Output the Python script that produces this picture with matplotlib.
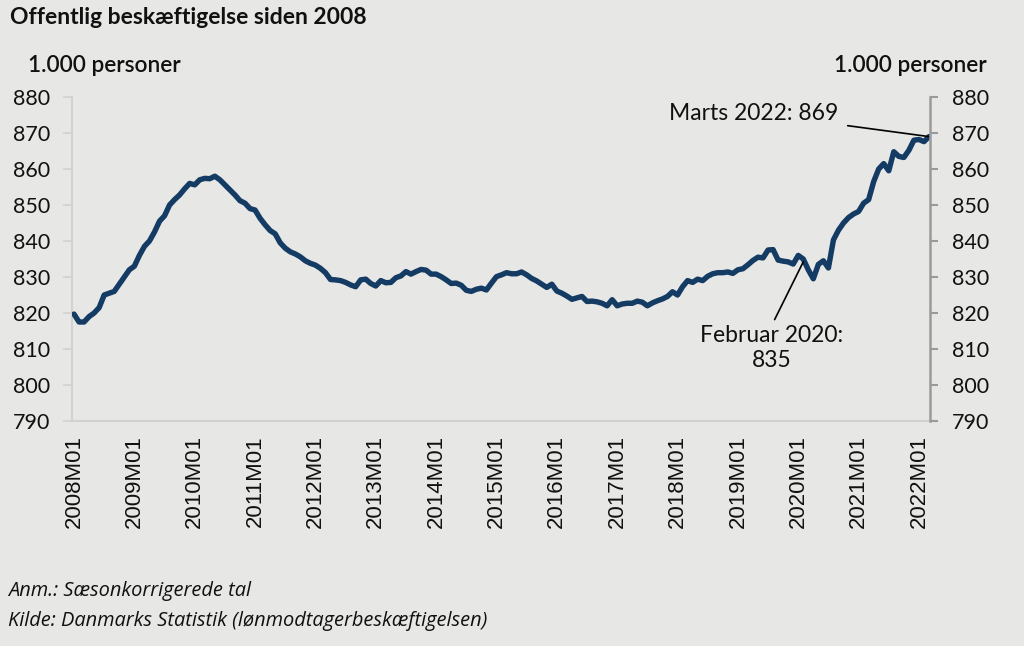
import matplotlib
matplotlib.use("Agg")
import matplotlib.pyplot as plt
import numpy as np

# Monthly data 2008M01 - 2022M03 (1.000 personer)
values = [
    # 2008
    819.7, 817.5, 817.5, 819.0, 820.0, 821.5, 825.0, 825.5, 826.0, 828.0, 830.0, 832.0,
    # 2009
    833.0, 836.0, 838.5, 840.0, 842.5, 845.5, 847.0, 850.0, 851.5, 852.8, 854.5, 856.0,
    # 2010
    855.6, 857.0, 857.4, 857.3, 858.0, 857.0, 855.6, 854.2, 852.8, 851.2, 850.5, 849.0,
    # 2011
    848.6, 846.3, 844.5, 842.9, 842.0, 839.5, 838.0, 837.0, 836.4, 835.6, 834.5, 833.8,
    # 2012
    833.3, 832.4, 831.2, 829.3, 829.2, 829.0, 828.5, 827.8, 827.3, 829.2, 829.4, 828.2,
    # 2013
    827.5, 829.0, 828.4, 828.5, 829.8, 830.3, 831.5, 830.8, 831.5, 832.1, 831.9, 830.8,
    # 2014
    830.8, 830.1, 829.2, 828.2, 828.3, 827.7, 826.3, 826.0, 826.6, 826.9, 826.4, 828.3,
    # 2015
    830.1, 830.6, 831.2, 830.9, 830.9, 831.4, 830.6, 829.6, 828.9, 828.0, 827.1, 828.0,
    # 2016
    826.1, 825.5, 824.7, 823.8, 824.2, 824.6, 823.2, 823.3, 823.1, 822.7, 822.0, 823.7,
    # 2017
    822.0, 822.5, 822.7, 822.7, 823.3, 823.0, 822.0, 822.8, 823.4, 823.9, 824.6, 825.9,
    # 2018
    825.0, 827.3, 829.0, 828.5, 829.4, 829.0, 830.2, 830.9, 831.2, 831.2, 831.4, 831.0,
    # 2019
    832.0, 832.3, 833.4, 834.6, 835.5, 835.3, 837.5, 837.6, 834.7, 834.4, 834.2, 833.6,
    # 2020
    836.0, 835.0, 832.0, 829.5, 833.5, 834.5, 832.5, 840.3, 843.0, 845.0, 846.5, 847.5,
    # 2021
    848.2, 850.5, 851.5, 856.5, 860.0, 861.5, 859.5, 864.8, 863.5, 863.2, 865.2, 868.0,
    # 2022
    868.2, 867.6, 869.0,
]
years = list(range(2008, 2023))
tick_labels = [f"{y}M01" for y in years]
y_ticks = [790, 800, 810, 820, 830, 840, 850, 860, 870, 880]

title = "Offentlig beskæftigelse siden 2008"
unit = "1.000 personer"
note1 = "Anm.: Sæsonkorrigerede tal"
note2 = "Kilde: Danmarks Statistik (lønmodtagerbeskæftigelsen)"
ann_last = "Marts 2022: 869"
ann_feb = "Februar 2020:\n835"

BG = "#E7E7E5"
LINE = "#143B63"

fig = plt.figure(figsize=(10.24, 6.46), dpi=100, facecolor=BG)
ax = fig.add_axes([72 / 1024, 1 - 421 / 646, (930 - 72) / 1024, (421 - 97) / 646])
ax.set_facecolor(BG)

x = np.arange(len(values))
ax.plot(x, values, color=LINE, lw=3.9, solid_joinstyle="round", solid_capstyle="round", zorder=3)

ax.set_xlim(-0.4, 170.2)
ax.set_ylim(790, 880)

ax.set_xticks(np.arange(0, len(values), 12))
ax.set_xticklabels(tick_labels, rotation=90, family="Liberation Sans", fontsize=16, color="#111111")
ax.tick_params(axis="x", length=0, pad=10)

ax.set_yticks(y_ticks)
ax.set_yticklabels([str(v) for v in y_ticks], family="Lato", fontsize=15.5, color="#111111")
ax.tick_params(axis="y", which="both", direction="out", length=6.5, width=1.2,
               color="#D2D2D0", pad=9, left=True, right=False)

ax2 = ax.twinx()
ax2.set_ylim(790, 880)
ax2.set_yticks(y_ticks)
ax2.set_yticklabels([str(v) for v in y_ticks], family="Lato", fontsize=15.5, color="#111111")
ax2.tick_params(axis="y", direction="out", length=6, width=1.5, color="#9A9A9A", pad=10)

for a in (ax, ax2):
    a.spines["top"].set_visible(False)
ax.spines["left"].set_color("#D2D2D0")
ax.spines["left"].set_linewidth(1.5)
ax.spines["bottom"].set_color("#D2D2D0")
ax.spines["bottom"].set_linewidth(1.5)
ax.spines["right"].set_visible(False)
ax2.spines["left"].set_visible(False)
ax2.spines["bottom"].set_visible(False)
ax2.spines["right"].set_color("#9A9A9A")
ax2.spines["right"].set_linewidth(1.8)

fig.text(10 / 1024, 1 - 18 / 646, title, family="Lato", fontweight="bold", fontsize=16.5,
         va="center", ha="left", color="#111111")
fig.text(28 / 1024, 1 - 65 / 646, unit, family="Lato", fontweight="semibold", fontsize=16.3,
         va="center", ha="left", color="#111111")
fig.text(987 / 1024, 1 - 65 / 646, unit, family="Lato", fontweight="semibold", fontsize=16.3,
         va="center", ha="right", color="#111111")

ax.annotate(ann_last, xy=(170, values[170]), xytext=(838 / 1024, 1 - 113 / 646),
            textcoords="figure fraction", ha="right", va="center",
            family="Lato", fontsize=16.5, color="#111111",
            arrowprops=dict(arrowstyle="-", color="black", lw=1.2,
                            shrinkA=5, shrinkB=0))
ax.annotate(ann_feb, xy=(145, values[145] - 0.8), xytext=(772 / 1024, 1 - 348 / 646),
            textcoords="figure fraction", ha="center", va="center",
            family="Lato", fontsize=16.5, color="#111111", linespacing=1.25,
            arrowprops=dict(arrowstyle="-", color="black", lw=1.2,
                            shrinkA=2, shrinkB=0, relpos=(0.5, 1.0)))

fig.text(8 / 1024, 1 - 591 / 646, note1, family="Open Sans", style="italic", fontsize=14.4,
         va="center", ha="left", color="#111111")
fig.text(8 / 1024, 1 - 621 / 646, note2, family="Open Sans", style="italic", fontsize=14.4,
         va="center", ha="left", color="#111111")

fig.savefig("out.png", dpi=100, facecolor=BG)
